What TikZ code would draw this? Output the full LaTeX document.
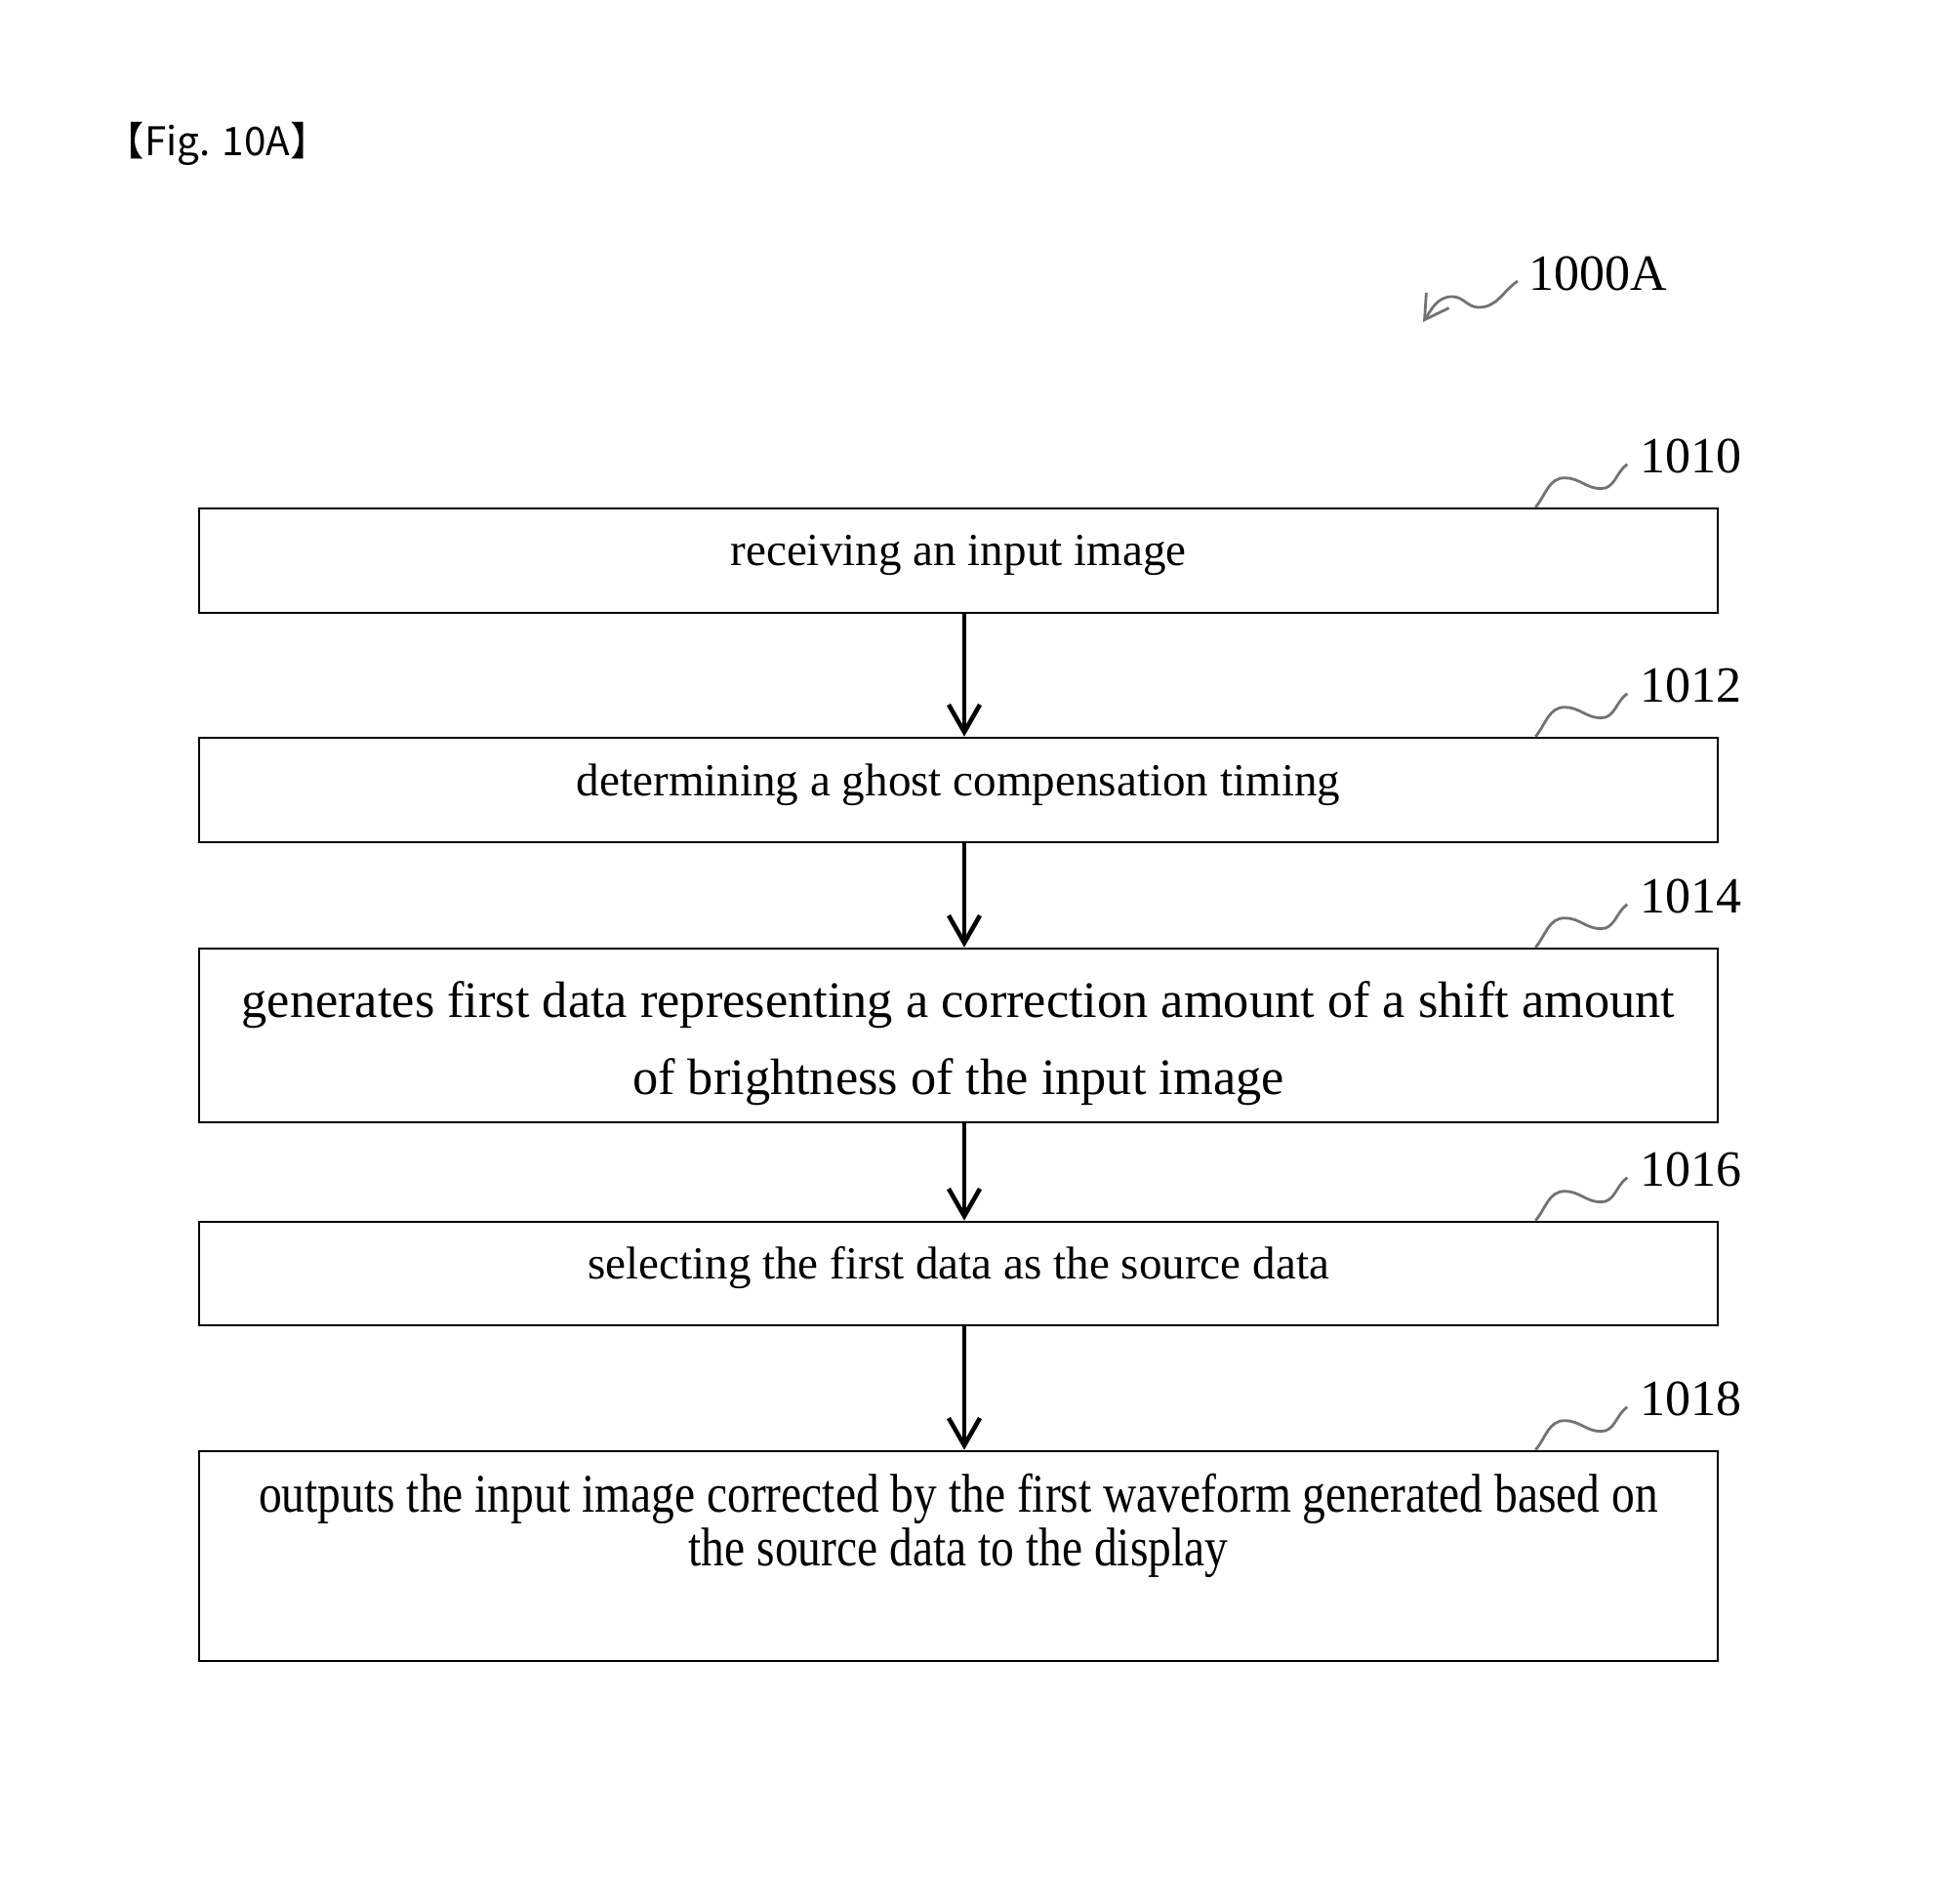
\documentclass[tikz,border=0pt]{standalone}
\usepackage{fontspec}
\setmainfont{Liberation Serif}
\newfontfamily\figfont{Noto Sans CJK KR}
\newfontfamily\narrowserif[FakeStretch=0.85]{Liberation Serif}
\usetikzlibrary{arrows.meta, positioning}

\begin{document}
\begin{tikzpicture}[
    stepbox/.style={draw, line width=0.75pt, minimum width=15.56cm, inner sep=0pt, align=center},
    oneline/.style={text height=0.35cm, text depth=0.24cm, font=\fontsize{13.4}{16}\selectfont},
    steptext/.style={anchor=north, inner sep=0pt, align=center},
    flow/.style={-{Straight Barb[length=2.8mm,width=3.2mm]}, line width=1.3pt},
    leader/.style={draw=black!55, line width=0.8pt},
    refnum/.style={inner sep=0pt, anchor=base west, font=\fontsize{14.8}{16}\selectfont}
  ]
  \useasboundingbox (0,0) rectangle (20,19.5);

  % Titulo de la figura
  \node[anchor=base west, inner sep=0pt, font=\figfont\fontsize{11.5}{14}\selectfont] (figtitle) at (1.07,17.90) {【Fig. 10A】};

  % Pasos del diagrama
  \node[stepbox, oneline, minimum height=1.07cm] (s1010) at (9.82,13.755) {receiving an input image};
  \node[stepbox, oneline, minimum height=1.07cm] (s1012) at (9.82,11.405) {determining a ghost compensation timing};
  \node[stepbox, minimum height=1.78cm] (s1014) at (9.82,8.89) {};
  \node[steptext, font=\fontsize{14.9}{22.5}\selectfont] (t1014) at ([yshift=-3.4mm]s1014.north) {generates first data representing a correction amount of a shift amount\\of brightness of the input image};
  \node[stepbox, oneline, minimum height=1.06cm] (s1016) at (9.82,6.45) {selecting the first data as the source data};
  \node[stepbox, minimum height=2.15cm] (s1018) at (9.82,3.555) {};
  \node[steptext, font=\narrowserif\fontsize{15.9}{15.65}\selectfont] (t1018) at ([yshift=-2.35mm]s1018.north) {outputs the input image corrected by the first waveform generated based on\\the source data to the display};

  % Flechas entre pasos
  \foreach \a/\b in {1010/1012, 1012/1014, 1014/1016, 1016/1018}
    \draw[flow] ([xshift=0.6mm]s\a.south) -- ([xshift=0.6mm]s\b.north);

  % Numeros de referencia
  \foreach \n in {1010,1012,1014,1016,1018}{
    \node[refnum] (r\n) at ([xshift=-8.2mm,yshift=3.5mm]s\n.north east) {\n};
    \draw[leader] ([xshift=-18.8mm]s\n.north east) to[out=50,in=180] ++(0.30,0.30) to[out=0,in=180] ++(0.37,-0.11) to[out=0,in=215] ([xshift=-1.2mm,yshift=-0.8mm]r\n.west);
  }

  \node[refnum] (r1000A) at (15.66,16.52) {1000A};
  \coordinate (c1000A) at (14.58,16.20);
  \draw[leader, -{Straight Barb[length=2.4mm,width=2.8mm]}] ([xshift=-1.1mm,yshift=-0.7mm]r1000A.west) to[out=215,in=0] ++(-0.40,-0.27) to[out=180,in=0] ++(-0.27,0.11) to[out=180,in=56] (c1000A);

\end{tikzpicture}
\end{document}
